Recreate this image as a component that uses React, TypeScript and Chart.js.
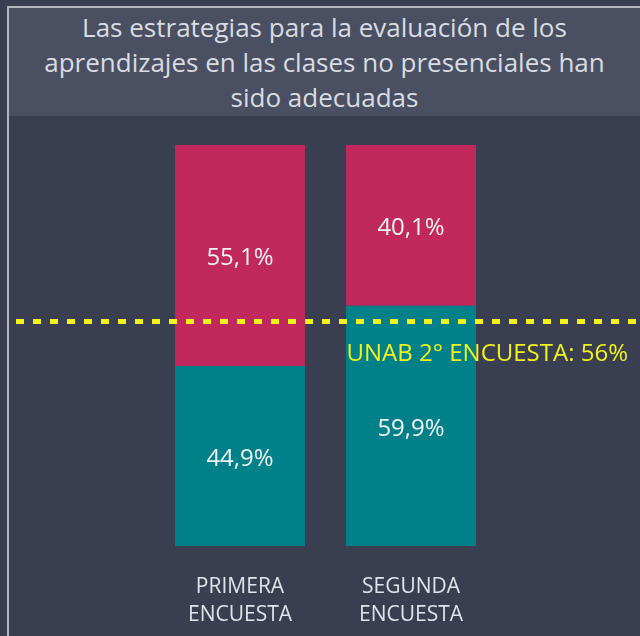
import React, { useEffect, useRef } from "react";
import { Chart, registerables } from "chart.js";

Chart.register(...registerables);

const TITLE_LINES = [
  "Las estrategias para la evaluación de los",
  "aprendizajes en las clases no presenciales han",
  "sido adecuadas",
];
const CATEGORIES = [["PRIMERA", "ENCUESTA"], ["SEGUNDA", "ENCUESTA"]];
const SERIES_BOTTOM = [44.9, 59.9];
const SERIES_TOP = [55.1, 40.1];
const REFERENCE_VALUE = 56;
const REFERENCE_LABEL = "UNAB 2° ENCUESTA: 56%";

const FONT = "'Open Sans', 'Noto Sans', sans-serif";
const CANVAS_H = 680;

const valueLabels = {
  id: "valueLabels",
  afterDatasetsDraw(chart: any) {
    const ctx = chart.ctx;
    ctx.save();
    ctx.fillStyle = "#f2f2f4";
    ctx.font = `24px ${FONT}`;
    ctx.textAlign = "center";
    ctx.textBaseline = "middle";
    chart.data.datasets.forEach((ds: any, di: number) => {
      const meta = chart.getDatasetMeta(di);
      meta.data.forEach((bar: any, i: number) => {
        const v = ds.data[i];
        const y = (bar.y + bar.base) / 2 + 3;
        ctx.fillText(v.toFixed(1).replace(".", ",") + "%", bar.x, y);
      });
    });
    ctx.restore();
  },
};

const refLine = {
  id: "refLine",
  afterDatasetsDraw(chart: any) {
    const ctx = chart.ctx;
    const y = chart.scales.y.getPixelForValue(REFERENCE_VALUE);
    ctx.save();
    ctx.strokeStyle = "#f2f21c";
    ctx.lineWidth = 5;
    ctx.setLineDash([8, 9]);
    ctx.beginPath();
    ctx.moveTo(16, y);
    ctx.lineTo(chart.width, y);
    ctx.stroke();
    ctx.setLineDash([]);
    ctx.fillStyle = "#f2f21c";
    ctx.font = `24px ${FONT}`;
    ctx.textAlign = "right";
    ctx.textBaseline = "middle";
    ctx.fillText(REFERENCE_LABEL, 628, y + 33);
    ctx.restore();
  },
};

export default function App() {
  const ref = useRef<HTMLCanvasElement>(null);
  useEffect(() => {
    if (!ref.current) return;
    const chart = new Chart(ref.current, {
      type: "bar",
      data: {
        labels: CATEGORIES as any,
        datasets: [
          { data: SERIES_BOTTOM, backgroundColor: "#00818a", borderWidth: 0 },
          { data: SERIES_TOP, backgroundColor: "#c1295c", borderWidth: 0 },
        ],
      },
      options: {
        animation: false,
        responsive: false,
        maintainAspectRatio: false,
        layout: { padding: { top: 145, bottom: 32, left: 154.5, right: 143.5 } },
        plugins: { legend: { display: false }, tooltip: { enabled: false }, title: { display: false } },
        datasets: { bar: { categoryPercentage: 0.76, barPercentage: 1 } } as any,
        scales: {
          x: {
            stacked: true,
            grid: { display: false },
            border: { display: false },
            ticks: {
              color: "#dfe3ea",
              font: { family: FONT, size: 21, lineHeight: 28 / 21 },
              padding: 19,
            },
          },
          y: { stacked: true, display: false, min: 0, max: 100 },
        },
      },
      plugins: [valueLabels, refLine],
    });
    return () => chart.destroy();
  }, []);

  return (
    <div style={{ position: "fixed", left: 0, top: 0, width: 640, height: 636, background: "#393e50", overflow: "hidden" }}>
      <canvas ref={ref} width={640} height={CANVAS_H} style={{ position: "absolute", left: 0, top: 0, width: 640, height: CANVAS_H }} />
      <div
        style={{
          position: "absolute",
          left: 7,
          top: 6,
          width: 640,
          height: 640,
          borderLeft: "2px solid #b3b6be",
          borderTop: "2px solid #b3b6be",
          pointerEvents: "none",
        }}
      />
      <div
        style={{
          position: "absolute",
          left: 9,
          top: 8,
          width: 631,
          height: 108,
          background: "#4a5061",
          color: "#d9dce3",
          fontFamily: FONT,
          fontSize: 26,
          lineHeight: "35px",
          textAlign: "center",
          paddingTop: 2,
          boxSizing: "border-box",
        }}
      >
        {TITLE_LINES.map((l, i) => (
          <div key={i} style={{ whiteSpace: "nowrap" }}>{l}</div>
        ))}
      </div>
    </div>
  );
}
